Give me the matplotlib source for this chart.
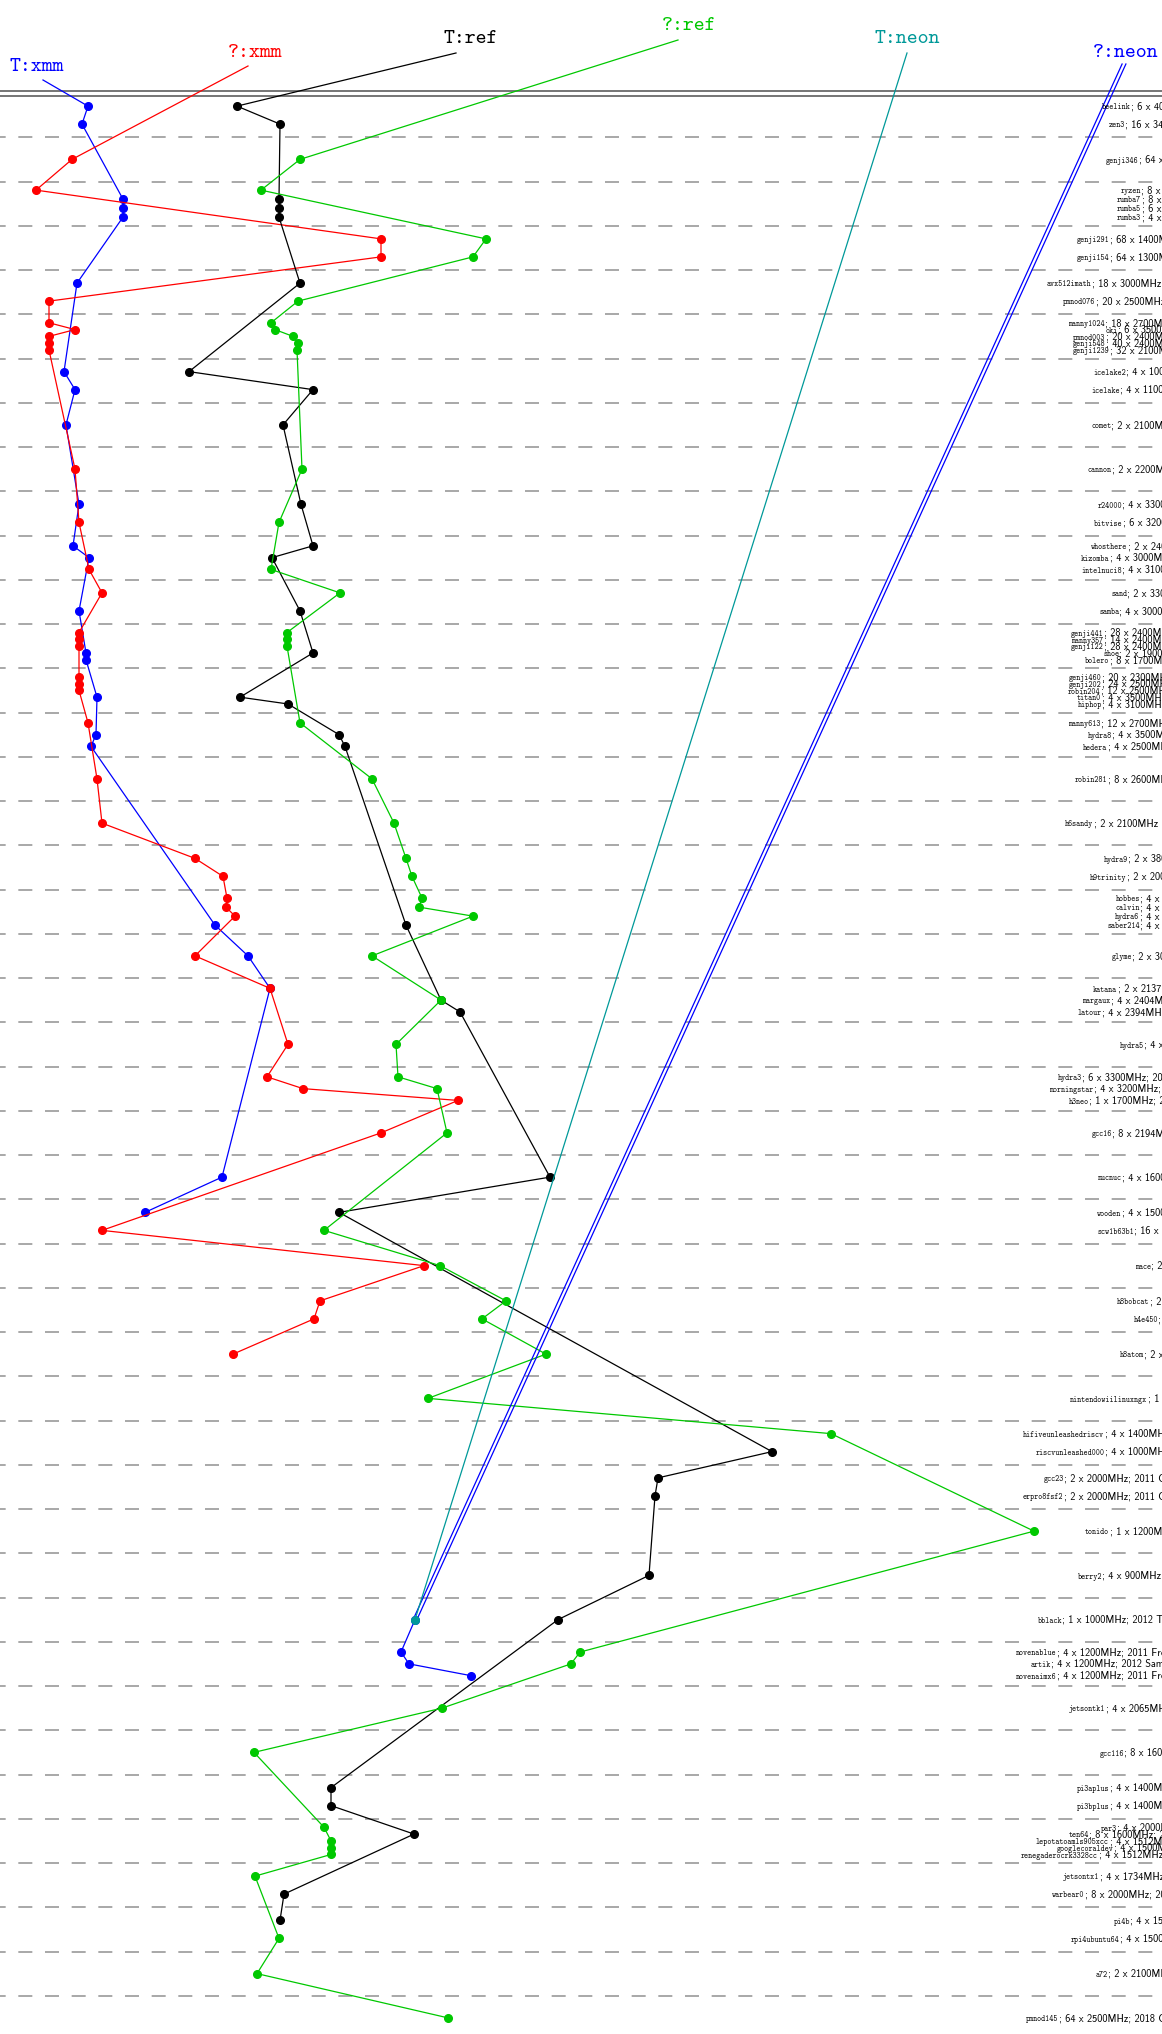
import matplotlib.pyplot as plt

W, H = 1162, 2034
TOP, STEP = 93, 44.25

# machines, grouped as in the chart (one group per dashed band)
groups = [
    ["beelink", "zen3"],
    ["genji346"],
    ["ryzen", "rumba7", "rumba5", "rumba3"],
    ["genji291", "genji154"],
    ["avx512imath", "pmnod076"],
    ["manny1024", "oki", "pmnod003", "genji548", "genji1239"],
    ["icelake2", "icelake"],
    ["comet"],
    ["cannon"],
    ["r24000", "bitvise"],
    ["whosthere", "kizomba", "intelnuci8"],
    ["sand", "samba"],
    ["genji441", "manny357", "genji122", "shoe", "bolero"],
    ["genji460", "genji202", "robin204", "titan0", "hiphop"],
    ["manny613", "hydra8", "hedera"],
    ["robin281"],
    ["h6sandy"],
    ["hydra9", "h9trinity"],
    ["hobbes", "calvin", "hydra6", "saber214"],
    ["glyme"],
    ["katana", "margaux", "latour"],
    ["hydra5"],
    ["hydra3", "morningstar", "h3neo"],
    ["gcc16"],
    ["nucnuc"],
    ["wooden", "scw1b63b1"],
    ["mace"],
    ["h8bobcat", "h4e450"],
    ["h8atom"],
    ["nintendowiilinuxngx"],
    ["hifiveunleashedriscv", "riscvunleashed000"],
    ["gcc23", "erpro8fsf2"],
    ["tonido"],
    ["berry2"],
    ["bblack"],
    ["novenablue", "artik", "novenaimx6"],
    ["jetsontk1"],
    ["gcc116"],
    ["pi3aplus", "pi3bplus"],
    ["par3", "ten64", "lepotatoamls905xcc", "googlecoraldev", "renegaderocrk3328cc"],
    ["jetsontx1", "warbear0"],
    ["pi4b", "rpi4ubuntu64"],
    ["a72"],
    ["pmnod145"],
]

details = {
    "beelink": "; 6 x 4000MHz", "zen3": "; 16 x 3400MHz", "genji346": "; 64 x 2000MHz",
    "ryzen": "; 8 x 3600MHz", "rumba7": "; 8 x 3600MHz", "rumba5": "; 6 x 3600MHz",
    "rumba3": "; 4 x 3600MHz", "genji291": "; 68 x 1400MHz", "genji154": "; 64 x 1300MHz",
    "avx512imath": "; 18 x 3000MHz; 2017", "pmnod076": "; 20 x 2500MHz; 2017",
    "manny1024": "; 18 x 2700MHz", "oki": "; 6 x 3500MHz", "pmnod003": "; 20 x 2400MHz",
    "genji548": "; 40 x 2400MHz", "genji1239": "; 32 x 2100MHz",
    "icelake2": "; 4 x 1000MHz", "icelake": "; 4 x 1100MHz", "comet": "; 2 x 2100MHz",
    "cannon": "; 2 x 2200MHz", "r24000": "; 4 x 3300MHz", "bitvise": "; 6 x 3200MHz",
    "whosthere": "; 2 x 2400MHz", "kizomba": "; 4 x 3000MHz", "intelnuci8": "; 4 x 3100MHz",
    "sand": "; 2 x 3300MHz", "samba": "; 4 x 3000MHz",
    "genji441": "; 28 x 2400MHz", "manny357": "; 14 x 2400MHz", "genji122": "; 28 x 2400MHz",
    "shoe": "; 2 x 1900MHz", "bolero": "; 8 x 1700MHz",
    "genji460": "; 20 x 2300MHz", "genji202": "; 24 x 2500MHz", "robin204": "; 12 x 2500MHz",
    "titan0": "; 4 x 3500MHz", "hiphop": "; 4 x 3100MHz",
    "manny613": "; 12 x 2700MHz", "hydra8": "; 4 x 3500MHz", "hedera": "; 4 x 2500MHz",
    "robin281": "; 8 x 2600MHz", "h6sandy": "; 2 x 2100MHz",
    "hydra9": "; 2 x 3800MHz", "h9trinity": "; 2 x 2000MHz",
    "hobbes": "; 4 x 3000MHz", "calvin": "; 4 x 3000MHz", "hydra6": "; 4 x 3000MHz",
    "saber214": "; 4 x 3000MHz", "glyme": "; 2 x 3000MHz",
    "katana": "; 2 x 2137MHz", "margaux": "; 4 x 2404MHz", "latour": "; 4 x 2394MHz",
    "hydra5": "; 4 x 2000MHz", "hydra3": "; 6 x 3300MHz; 2009",
    "morningstar": "; 4 x 3200MHz; 2009", "h3neo": "; 1 x 1700MHz; 2009",
    "gcc16": "; 8 x 2194MHz", "nucnuc": "; 4 x 1600MHz",
    "wooden": "; 4 x 1500MHz", "scw1b63b1": "; 16 x 2100MHz",
    "mace": "; 2 x 1000MHz", "h8bobcat": "; 2 x 1000MHz", "h4e450": "; 2 x 1650MHz",
    "h8atom": "; 2 x 1600MHz", "nintendowiilinuxngx": "; 1 x 729MHz",
    "hifiveunleashedriscv": "; 4 x 1400MHz; 2018", "riscvunleashed000": "; 4 x 1000MHz; 2018",
    "gcc23": "; 2 x 2000MHz; 2011 Cavium", "erpro8fsf2": "; 2 x 2000MHz; 2011 Cavium",
    "tonido": "; 1 x 1200MHz; 2010", "berry2": "; 4 x 900MHz; 2015",
    "bblack": "; 1 x 1000MHz; 2012 TI", "novenablue": "; 4 x 1200MHz; 2011 Freescale",
    "artik": "; 4 x 1200MHz; 2012 Samsung", "novenaimx6": "; 4 x 1200MHz; 2011 Freescale",
    "jetsontk1": "; 4 x 2065MHz; 2014", "gcc116": "; 8 x 1600MHz",
    "pi3aplus": "; 4 x 1400MHz; 2018", "pi3bplus": "; 4 x 1400MHz; 2018",
    "par3": "; 4 x 2000MHz", "ten64": "; 8 x 1600MHz; 2019",
    "lepotatoamls905xcc": "; 4 x 1512MHz", "googlecoraldev": "; 4 x 1500MHz",
    "renegaderocrk3328cc": "; 4 x 1512MHz", "jetsontx1": "; 4 x 1734MHz; 2015",
    "warbear0": "; 8 x 2000MHz; 2017", "pi4b": "; 4 x 1500MHz", "rpi4ubuntu64": "; 4 x 1500MHz",
    "a72": "; 2 x 2100MHz; 2015", "pmnod145": "; 64 x 2500MHz; 2018 Cavium",
}

# series values (arbitrary speed units, larger = further right)
t_xmm = {"beelink": 88, "zen3": 82, "rumba7": 123, "rumba5": 123, "rumba3": 123,
         "avx512imath": 77, "icelake2": 64, "icelake": 75, "comet": 66, "r24000": 79,
         "whosthere": 73, "kizomba": 89, "samba": 79, "shoe": 86, "bolero": 86,
         "titan0": 97, "hydra8": 96, "hedera": 91, "saber214": 215, "glyme": 248,
         "katana": 270, "nucnuc": 222, "wooden": 145}
q_xmm = {"genji346": 72, "ryzen": 36, "genji291": 381, "genji154": 381, "pmnod076": 49,
         "manny1024": 49, "oki": 75, "pmnod003": 49, "genji548": 49, "genji1239": 49,
         "cannon": 75, "bitvise": 79, "intelnuci8": 89, "sand": 102, "genji441": 79,
         "manny357": 79, "genji122": 79, "genji460": 79, "genji202": 79, "robin204": 79,
         "manny613": 88, "robin281": 97, "h6sandy": 102, "hydra9": 195, "h9trinity": 223,
         "hobbes": 227, "calvin": 226, "hydra6": 235, "glyme": 195, "katana": 270,
         "hydra5": 288, "hydra3": 267, "morningstar": 303, "h3neo": 458, "gcc16": 381,
         "scw1b63b1": 102, "mace": 424, "h8bobcat": 320, "h4e450": 314, "h8atom": 233}
t_ref = {"beelink": 237, "zen3": 280, "rumba7": 279, "rumba5": 279, "rumba3": 279,
         "avx512imath": 300, "icelake2": 189, "icelake": 313, "comet": 283, "r24000": 301,
         "whosthere": 313, "kizomba": 272, "samba": 300, "shoe": 313, "titan0": 240,
         "hiphop": 288, "hydra8": 339, "hedera": 345, "saber214": 406, "margaux": 441,
         "latour": 460, "nucnuc": 550, "wooden": 339, "riscvunleashed000": 772,
         "gcc23": 658, "erpro8fsf2": 655, "berry2": 649, "bblack": 558,
         "pi3aplus": 331, "pi3bplus": 331, "ten64": 414, "warbear0": 284, "pi4b": 280}
q_ref = {"genji346": 300, "ryzen": 261, "genji291": 486, "genji154": 473, "pmnod076": 298,
         "manny1024": 271, "oki": 275, "pmnod003": 293, "genji548": 298, "genji1239": 297,
         "cannon": 302, "bitvise": 279, "intelnuci8": 271, "sand": 340, "genji441": 287,
         "manny357": 287, "genji122": 287, "manny613": 300, "robin281": 372,
         "h6sandy": 394, "hydra9": 406, "h9trinity": 412, "hobbes": 422, "calvin": 419,
         "hydra6": 473, "glyme": 372, "margaux": 441, "hydra5": 396, "hydra3": 398,
         "morningstar": 437, "gcc16": 447, "scw1b63b1": 324, "mace": 440,
         "h8bobcat": 506, "h4e450": 482, "h8atom": 546, "nintendowiilinuxngx": 428,
         "hifiveunleashedriscv": 831, "tonido": 1034, "novenablue": 580, "artik": 571,
         "jetsontk1": 442, "gcc116": 254, "par3": 324, "lepotatoamls905xcc": 331,
         "googlecoraldev": 331, "renegaderocrk3328cc": 331, "jetsontx1": 255,
         "rpi4ubuntu64": 279, "a72": 257, "pmnod145": 448}
t_neon = {"bblack": 415}
q_neon = {"bblack": 415, "novenablue": 401, "artik": 409, "novenaimx6": 471}

# label x start (layout)
label_x = {
    "beelink": 1102, "zen3": 1109, "genji346": 1106, "ryzen": 1121, "rumba7": 1117,
    "rumba5": 1117, "rumba3": 1117, "genji291": 1077, "genji154": 1077,
    "avx512imath": 1047, "pmnod076": 1063, "manny1024": 1068, "oki": 1106,
    "pmnod003": 1073, "genji548": 1073, "genji1239": 1073, "icelake2": 1093,
    "icelake": 1091, "comet": 1091, "cannon": 1087, "r24000": 1098, "bitvise": 1094,
    "whosthere": 1091, "kizomba": 1081, "intelnuci8": 1081, "sand": 1111, "samba": 1099,
    "genji441": 1071, "manny357": 1071, "genji122": 1071, "shoe": 1103, "bolero": 1085,
    "genji460": 1069, "genji202": 1069, "robin204": 1068, "titan0": 1077, "hiphop": 1078,
    "manny613": 1068, "hydra8": 1088, "hedera": 1083, "robin281": 1075, "h6sandy": 1065,
    "hydra9": 1104, "h9trinity": 1090, "hobbes": 1116, "calvin": 1116, "hydra6": 1115,
    "saber214": 1107, "glyme": 1112, "katana": 1093, "margaux": 1082, "latour": 1078,
    "hydra5": 1120, "hydra3": 1058, "morningstar": 1049, "h3neo": 1069, "gcc16": 1092,
    "nucnuc": 1098, "wooden": 1097, "scw1b63b1": 1097, "mace": 1135, "h8bobcat": 1117,
    "h4e450": 1134, "h8atom": 1120, "nintendowiilinuxngx": 1070,
    "hifiveunleashedriscv": 1023, "riscvunleashed000": 1036, "gcc23": 1044,
    "erpro8fsf2": 1023, "tonido": 1085, "berry2": 1078, "bblack": 1038,
    "novenablue": 1016, "artik": 1031, "novenaimx6": 1016, "jetsontk1": 1069,
    "gcc116": 1100, "pi3aplus": 1077, "pi3bplus": 1077, "par3": 1101, "ten64": 1069,
    "lepotatoamls905xcc": 1036, "googlecoraldev": 1057, "renegaderocrk3328cc": 1021,
    "jetsontx1": 1063, "warbear0": 1052, "pi4b": 1114, "rpi4ubuntu64": 1071,
    "a72": 1096, "pmnod145": 1026,
}

spacing = {1: 0, 2: 18, 3: 11.8, 4: 9, 5: 6.8}
row_y = {}
for k, g in enumerate(groups):
    c = TOP + STEP * (k + 0.5)
    n = len(g)
    for i, m in enumerate(g):
        row_y[m] = c + (i - (n - 1) / 2) * spacing[n]
order = [m for g in groups for m in g]

# name, values, colour, title centre, connector start, double connector
series = [
    ("T:xmm", t_xmm, "#0000ff", (37, 67), (43, 80), False),
    ("?:xmm", q_xmm, "#ff0000", (255, 53), (248, 66), False),
    ("T:ref", t_ref, "#000000", (471, 39), (456, 53), False),
    ("?:ref", q_ref, "#00c800", (689, 26), (678, 40), False),
    ("?:neon", q_neon, "#0000ff", (1126, 53), (1124, 64), True),
    ("T:neon", t_neon, "#009999", (907, 39), (907, 53), False),
]

fig = plt.figure(figsize=(W / 100, H / 100), dpi=100)
ax = fig.add_axes([0, 0, 1, 1])
ax.set_xlim(0, W)
ax.set_ylim(H, 0)
ax.axis('off')

# top double rule and dashed group separators
ax.axhline(91, color='#505050', lw=1.1)
ax.axhline(96, color='#505050', lw=1.1)
for k in range(1, len(groups)):
    ax.axhline(TOP + STEP * k, color='#999999', lw=1.2, linestyle=(5, (8.4, 7.6)))

for name, vals, col, tpos, start, double in series:
    ms = [m for m in order if m in vals]
    xs = [vals[m] for m in ms]
    ys = [row_y[m] for m in ms]
    if double:
        for dx in (-1.9, 1.9):
            ax.plot([start[0] + dx, xs[0] + dx], [start[1], ys[0]], color=col, lw=0.9)
    else:
        ax.plot([start[0], xs[0]], [start[1], ys[0]], color=col, lw=0.9)
    ax.plot(xs, ys, color=col, lw=0.9, marker='o', ms=5.5)
    ax.text(tpos[0], tpos[1], name, color=col, fontsize=15, family='cmtt10',
            ha='center', va='center')

# machine labels: typewriter name, larger sans details
NAME_FS, REST_FS = 5.6, 7.4
for m in order:
    x0, yb = label_x[m], row_y[m] + 3.3
    ax.text(x0, yb, m, family='cmtt10', fontsize=NAME_FS, va='baseline', ha='left')
    w = len(m) * 0.525 * NAME_FS * 100 / 72
    ax.text(x0 + w, yb, details[m], family='cmss10', fontsize=REST_FS,
            va='baseline', ha='left')

fig.savefig("out.png", dpi=100)
